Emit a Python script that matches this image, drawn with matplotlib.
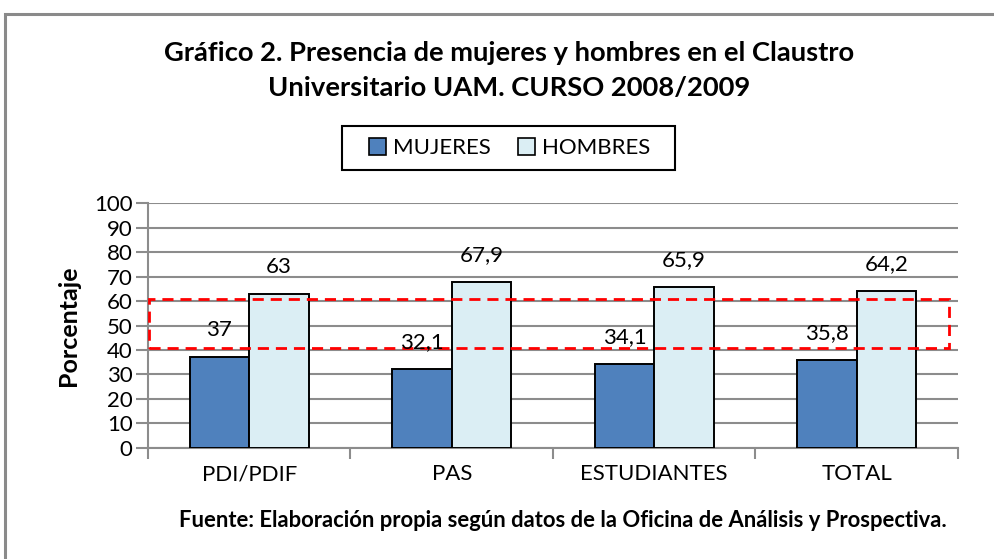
import matplotlib.pyplot as plt
from matplotlib.patches import Rectangle, Patch

# data
categories = ['PDI/PDIF', 'PAS', 'ESTUDIANTES', 'TOTAL']
mujeres = [37, 32.1, 34.1, 35.8]
hombres = [63, 67.9, 65.9, 64.2]
series_names = ['MUJERES', 'HOMBRES']
yticks = list(range(0, 101, 10))

plt.rcParams['font.family'] = ['Lato', 'DejaVu Sans']

fig = plt.figure(figsize=(9.95, 5.59), dpi=100)
ax = fig.add_axes([0.1487, 0.199, 0.8141, 0.4373])

# outer frame of the chart object
fig.patches.append(Rectangle((0.005, -0.05), 1.1, 0.025 + 1.0, transform=fig.transFigure,
                             fill=False, edgecolor='#8a8a8a', linewidth=2.2, zorder=0))

w = 0.294
x = range(len(categories))
xm = [i - w / 2 for i in x]
xh = [i + w / 2 for i in x]
ax.bar(xm, mujeres, width=w, color='#4F81BD', edgecolor='black', linewidth=1.4, zorder=3)
ax.bar(xh, hombres, width=w, color='#DBEEF4', edgecolor='black', linewidth=1.4, zorder=3)

def fmt(v):
    return ('%g' % v).replace('.', ',')

# Excel placed the labels about 11 units above the bar tops
for xi, v in zip(xm, mujeres):
    ax.text(xi, v + 11, fmt(v), ha='center', va='center', fontsize=16, zorder=5)
for xi, v in zip(xh, hombres):
    ax.text(xi, v + 11, fmt(v), ha='center', va='center', fontsize=16, zorder=5)

# red dashed highlight box
ax.add_patch(Rectangle((-0.497, 40.9), 3.955, 19.9, fill=False, edgecolor='#ff0000',
                       linestyle=(0, (4, 2.5)), linewidth=2, zorder=4))

ax.set_xlim(-0.5, 3.5)
ax.set_ylim(0, 100)
ax.set_yticks(yticks)
ax.set_yticklabels([str(t) for t in yticks], fontsize=16)
ax.yaxis.grid(True, color='#8c8c8c', linewidth=1.5, zorder=0)
ax.set_axisbelow(True)
ax.tick_params(axis='y', length=9, width=1.5, color='#8c8c8c', pad=2)

ax.set_xticks([-0.5, 0.5, 1.5, 2.5, 3.5])
ax.set_xticklabels([])
ax.set_xticks(list(x), minor=True)
ax.set_xticklabels(categories, minor=True, fontsize=16)
ax.tick_params(axis='x', which='major', length=8, width=1.5, color='#8c8c8c')
ax.tick_params(axis='x', which='minor', length=0, pad=12)

for s in ['top', 'right']:
    ax.spines[s].set_visible(False)
for s in ['left', 'bottom']:
    ax.spines[s].set_color('#8c8c8c')
    ax.spines[s].set_linewidth(1.5)

ax.set_ylabel('Porcentaje', fontsize=18, fontweight='bold', labelpad=10)

fig.text(0.512, 0.905, 'Gráfico 2. Presencia de mujeres y hombres en el Claustro',
         ha='center', va='center', fontsize=19.7, fontweight='bold')
fig.text(0.512, 0.842, 'Universitario UAM. CURSO 2008/2009',
         ha='center', va='center', fontsize=19.7, fontweight='bold')

# legend: entries without frame, box drawn separately to match the padding
handles = [Patch(facecolor='#4F81BD', edgecolor='black', linewidth=1.2),
           Patch(facecolor='#DBEEF4', edgecolor='black', linewidth=1.2)]
fig.legend(handles, series_names, loc='center', bbox_to_anchor=(0.512, 0.735),
           ncol=2, fontsize=16, frameon=False,
           handlelength=0.8, handleheight=0.8, handletextpad=0.3, columnspacing=1.2)
fig.patches.append(Rectangle((342 / 995, 1 - 170 / 559), 333 / 995, 44 / 559,
                             transform=fig.transFigure, fill=False, edgecolor='black',
                             linewidth=1.5, zorder=5))

fig.text(0.566, 0.069, 'Fuente: Elaboración propia según datos de la Oficina de Análisis y Prospectiva.',
         ha='center', va='center', fontsize=15.8, fontweight='bold')

fig.savefig('out.png', dpi=100)
